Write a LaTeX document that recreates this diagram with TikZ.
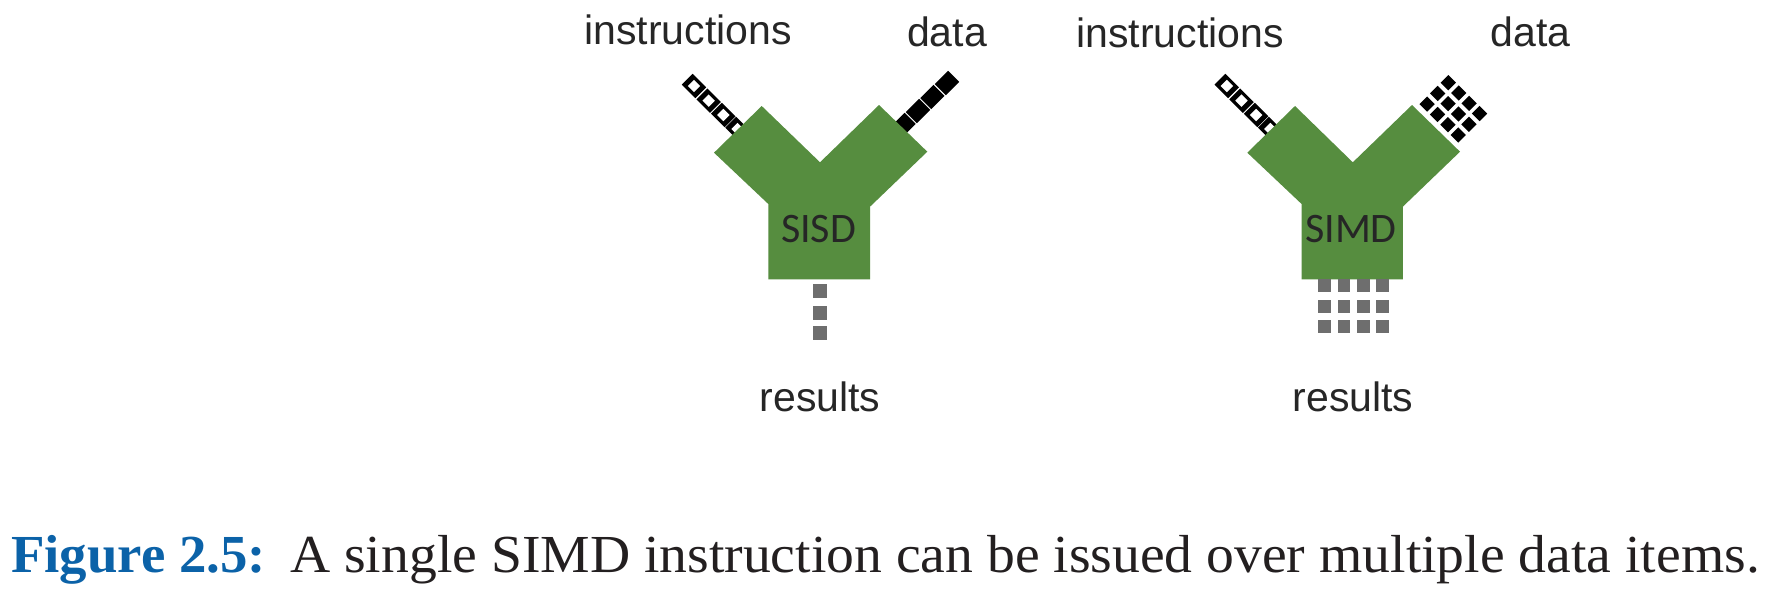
\documentclass[tikz,border=0pt]{standalone}
\usepackage{fontspec}
\setmainfont{Liberation Serif}
\newfontfamily\labelfont{Liberation Sans}
\newfontfamily\insidefont{Carlito}
\newfontfamily\capfont[FakeStretch=1.04]{Liberation Serif}
\newfontfamily\capboldfont[FakeStretch=1.025]{Liberation Serif Bold}
\definecolor{ygreen}{HTML}{568D3F}
\definecolor{resgray}{HTML}{6E6E6E}
\definecolor{figblue}{HTML}{0B62A8}
\definecolor{captink}{HTML}{231F20}
\tikzset{
  ylabel/.style={font=\labelfont\fontsize{41}{44}\selectfont,text=black!85,inner sep=0pt,anchor=base},
  yname/.style={font=\insidefont\fontsize{42}{44}\selectfont,text=black!85,inner sep=0pt,anchor=base},
  ybody/.style={fill=ygreen,draw=none},
  opencell/.pic={\fill[black,rotate=45] (-7.7,-9.6) rectangle (7.7,9.6);
    \fill[white,rotate=45] (-4.4,-4.4) rectangle (4.4,4.4);},
  solidcell/.pic={\fill[black,rotate=45] (-9.4,-7.8) rectangle (9.4,7.8);},
  dotcell/.pic={\fill[black,rotate=45] (-5.4,-5.4) rectangle (5.4,5.4);},
  rescell/.style={fill=resgray,draw=none,minimum size=#1,inner sep=0pt,shape=rectangle}
}
\begin{document}
\begin{tikzpicture}[x=1pt,y=-1pt]
\useasboundingbox[fill=white] (0,0) rectangle (1771,597);
% SISD
\foreach \x/\y in {694/86,708.7/100.7,723.3/115,737.5/129}{\pic at (\x,\y) {opencell};}
\foreach \x/\y in {947/83,932.4/97,918/111,903.5/125}{\pic at (\x,\y) {solidcell};}
\fill[ybody] (761.7,106) -- (714,152.7) -- (768.3,204) -- (768.3,279.3) -- (870,279.3) -- (870,206.7) -- (927.3,151.7) -- (879,105) -- (820,162.3) -- cycle;
\node[rescell=14pt] (a1) at (820.3,291) {};
\node[rescell=14pt] (a2) at (820.3,312.7) {};
\node[rescell=14pt] (a3) at (820.3,333.3) {};
\node[ylabel] (l1) at (688,44.5) {instructions};
\node[ylabel] (l2) at (947,46.5) {data};
\node[ylabel] (l3) at (820,411.5) {results};
\node[yname] (n1) at (818.5,242) {SISD};
% SIMD
\foreach \x/\y in {1226.8/86,1241.5/100.7,1256.1/115,1270.3/129}{\pic at (\x,\y) {opencell};}
\foreach \r in {0,1,2}{\foreach \c in {0,1,2,3}{
  \pic at ({1448.3+10.4*\c-10.6*\r},{82.7+10.3*\c+10.7*\r}) {dotcell};}}
\fill[ybody] (1295,106) -- (1247.3,152.7) -- (1301.6,204) -- (1301.6,279.3) -- (1402.8,279.3) -- (1402.8,206.7) -- (1460,151.7) -- (1412,105) -- (1352.8,162.3) -- cycle;
\foreach \x in {1324.3,1343.8,1363.5,1382.5}{\foreach \y in {285.7,306.5,326.7}{\node[rescell=12.5pt] at (\x,\y) {};}}
\node[ylabel] (r1) at (1180,47.5) {instructions};
\node[ylabel] (r2) at (1530.5,46.5) {data};
\node[ylabel] (r3) at (1353,411.5) {results};
\node[yname] (n2) at (1351,242) {SIMD};
% caption
\node[inner sep=0pt,anchor=base west,text=figblue,font=\capboldfont\fontsize{53.5}{56}\selectfont] (capa) at (11,572) {Figure 2.5:};
\node[inner sep=0pt,anchor=base west,text=captink,font=\capfont\fontsize{53.5}{56}\selectfont] (capb) at (290,572) {A single SIMD instruction can be issued over multiple data items.};
\end{tikzpicture}
\end{document}
